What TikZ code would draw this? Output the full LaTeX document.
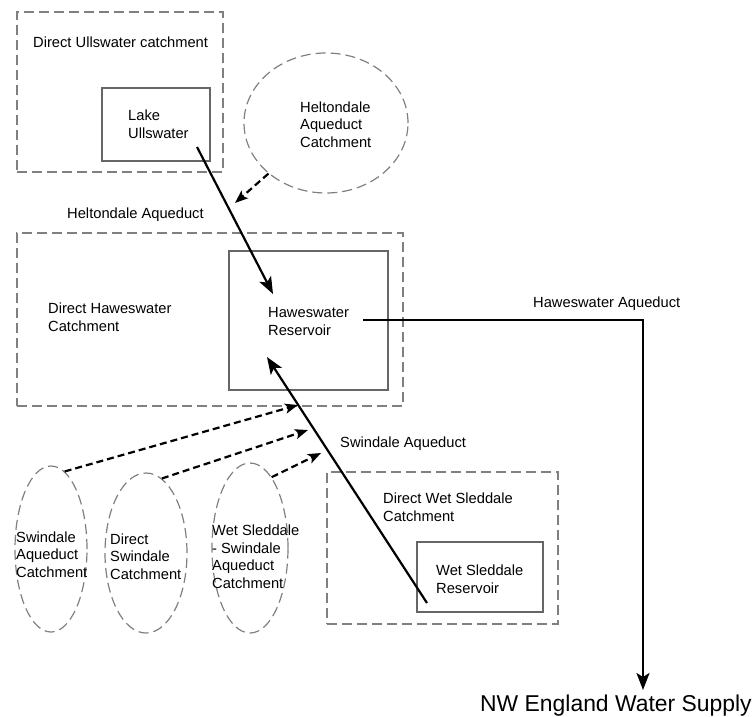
\documentclass[tikz,border=0pt]{standalone}
\usepackage{fontspec}
\setmainfont{Liberation Sans}
\usetikzlibrary{shapes.geometric,arrows.meta}

\begin{document}
\begin{tikzpicture}[x=1pt, y=-1pt,
  >={Stealth[length=17pt, width=13pt, inset=4pt]},
  catchbox/.style={rectangle, draw=gray, line width=1.2pt, dash pattern=on 10pt off 5pt, inner sep=0pt},
  catchell/.style={ellipse, draw=gray, line width=1.2pt, dash pattern=on 10pt off 5pt, inner sep=0pt},
  waterbox/.style={rectangle, draw=gray!80!black, line width=1.2pt, inner sep=0pt},
  lbl/.style={anchor=base west, align=left, inner sep=0pt, text=black,
              font=\fontsize{14.7}{17.5}\selectfont},
  aqueduct/.style={->, line width=2.2pt},
  feeder/.style={-{Stealth[length=13pt, width=10pt, inset=3pt]}, line width=2.2pt,
                 dash pattern=on 7pt off 4pt}]

  \useasboundingbox (0,0) rectangle (755,716);

  % --- Catchments (dashed) ---
  \node[catchbox, minimum width=206pt, minimum height=160pt] (ullC) at (120,92) {};
  \node[catchbox, minimum width=386pt, minimum height=173pt] (hawC) at (210,319.5) {};
  \node[catchbox, minimum width=231pt, minimum height=152pt] (wetC) at (442.5,548) {};

  \node[catchell, minimum width=164pt, minimum height=140pt] (helE) at (326,123) {};
  \node[catchell, minimum width=72pt, minimum height=166pt] (swaE) at (51,549) {};
  \node[catchell, minimum width=82pt, minimum height=160pt] (dswE) at (146,553) {};
  \node[catchell, minimum width=76pt, minimum height=170pt] (wssE) at (250,548) {};

  % --- Lakes and reservoirs ---
  \node[waterbox, minimum width=108pt, minimum height=73pt] (ullL) at (156,124.5) {};
  \node[waterbox, minimum width=159pt, minimum height=139pt] (hawR) at (308.5,320.5) {};
  \node[waterbox, minimum width=126pt, minimum height=70pt] (wetR) at (480,577) {};

  % --- Labels (anchored at the baseline of their last line) ---
  \node[lbl] (ullT) at (33,47) {Direct Ullswater catchment};
  \node[lbl] (lakeT) at (128,138) {Lake\\Ullswater};
  \node[lbl] (helT) at (300,147) {Heltondale\\Aqueduct\\Catchment};
  \node[lbl] (helAq) at (67,218) {Heltondale Aqueduct};
  \node[lbl] (hawT) at (48,331) {Direct Haweswater\\Catchment};
  \node[lbl] (hawRT) at (268,335) {Haweswater\\Reservoir};
  \node[lbl] (hawAq) at (533,307) {Haweswater Aqueduct};
  \node[lbl] (swiAq) at (340,447) {Swindale Aqueduct};
  \node[lbl] (wetT) at (383,521) {Direct Wet Sleddale\\Catchment};
  \node[lbl] (wetRT) at (436,593) {Wet Sleddale\\Reservoir};
  \node[lbl] (swaT) at (16,577) {Swindale\\Aqueduct\\Catchment};
  \node[lbl] (dswT) at (110,579) {Direct\\Swindale\\Catchment};
  \node[lbl] (wssT) at (212,588) {Wet Sleddale\\- Swindale\\Aqueduct\\Catchment};
  \node[lbl, font=\fontsize{22.9}{27}\selectfont] (nwT) at (480,711) {NW England Water Supply};

  % --- Ends of the aqueducts ---
  \coordinate (ullOut) at (197,147);
  \coordinate (hawIn) at (273,294);
  \coordinate (wetOut) at (427,603);
  \coordinate (hawIn2) at (267,357);
  \coordinate (hawOut) at (363,320);
  \coordinate (nwIn) at (643,690);
  \coordinate (helTip) at (235,203);
  \coordinate (swaTip) at (298,405);
  \coordinate (dswTip) at (308,430);
  \coordinate (wssTip) at (321,453);

  % --- Aqueducts ---
  \draw[aqueduct] (ullOut) -- (hawIn);
  \draw[aqueduct] (wetOut) -- (hawIn2);
  \draw[aqueduct] (hawOut) -| (nwIn);

  % --- Catchment inflows ---
  \draw[feeder] (helE) -- (helTip);
  \draw[feeder] (swaE.80) -- (swaTip);
  \draw[feeder] (dswE.78) -- (dswTip);
  \draw[feeder] (wssE.73) -- (wssTip);

\end{tikzpicture}
\end{document}
